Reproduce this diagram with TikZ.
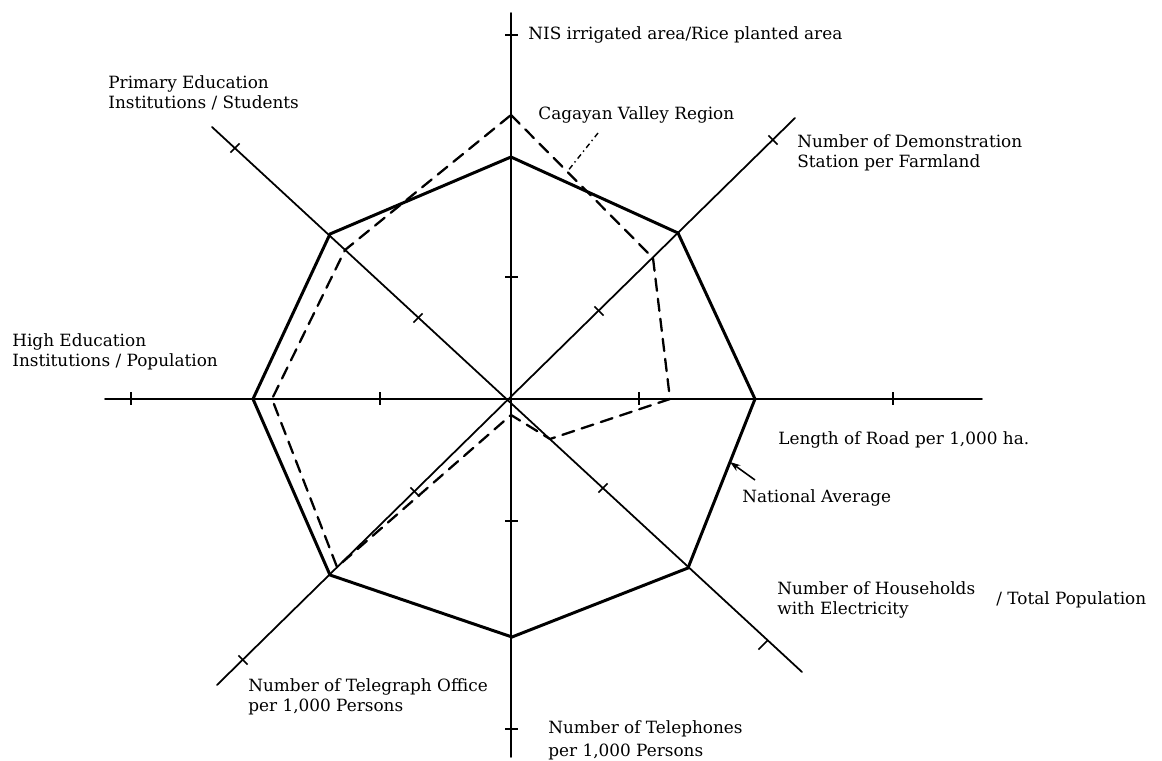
\documentclass[tikz,border=0pt]{standalone}
\usepackage{fontspec}
\setmainfont{DejaVu Serif}
\usepackage{tkz-euclide}
\usetikzlibrary{arrows.meta}
\definecolor{AxisClr}{gray}{0}
\definecolor{AvgClr}{gray}{0}
\definecolor{RegClr}{gray}{0}

\tikzset{
  lbl/.style={inner sep=0pt,anchor=west,align=left,
    font=\fontsize{9.6}{11.5}\selectfont},
  tick/.style={line width=0.9pt,color=AxisClr}
}

\begin{document}
\begin{tikzpicture}
\useasboundingbox (-10.22,-7.24) rectangle (13.02,7.98);
\tkzSetUpLine[line width=1pt,color=AxisClr]

% axes
\tkzDefPoints{0/0/O,0/7.72/N,0/-7.16/S,-8.12/0/W,9.42/0/E,
  5.68/5.62/NE,-5.88/-5.72/SW,-5.98/5.44/NW,5.82/-5.46/SE}
\tkzDrawSegments[line width=1pt,color=AxisClr](N,S W,E NE,SW NW,SE)

% tick marks
\tkzDefPoints{0/7.28/tN,0/2.44/tNi,0/-2.44/tSi,0/-6.6/tS,
  -7.6/0/tW,-2.62/0/tWi,2.56/0/tEi,7.64/0/tE,
  5.24/5.18/tNE,1.76/1.76/tNEi,-5.36/-5.22/tSW,-1.92/-1.86/tSWi,
  -5.52/5.02/tNW,-1.86/1.62/tNWi,5.04/-4.92/tSE,1.84/-1.78/tSEi}
\foreach \p/\a in {tN/0,tNi/0,tSi/0,tS/0,tW/90,tWi/90,tEi/90,tE/90,
  tNE/135,tNEi/135,tSW/135,tSWi/135,tNW/45,tNWi/45,tSE/45,tSEi/45}
  \draw[tick] (\p) ++(\a:0.13) -- ++(\a+180:0.26);

% national average
\tkzDefPoints{0/4.84/aT,3.34/3.32/aNE,4.88/0/aR,3.54/-3.38/aSE,
  0.02/-4.76/aB,-3.62/-3.52/aSW,-5.16/0/aL,-3.62/3.30/aNW}
\tkzDrawPolygon[line width=1.7pt,color=AvgClr,line join=miter](aT,aNE,aR,aSE,aB,aSW,aL,aNW)

% cagayan valley region
\tkzDefPoints{0/5.68/cT,2.84/2.82/cNE,3.18/0/cR,0.78/-0.80/cSE,
  0/-0.32/cB,-3.48/-3.36/cSW,-4.78/0/cL,-3.32/2.98/cNW}
\tkzDrawPolygon[line width=1.3pt,color=RegClr,dash pattern=on 7pt off 4.5pt](cT,cNE,cR,cSE,cB,cSW,cL,cNW)

% labels
\node[lbl] (nis) at (0.34,7.28) {NIS irrigated area/Rice planted area};
\node[lbl] (cagayan) at (0.54,5.68) {Cagayan Valley Region};
\node[lbl] (demo) at (5.72,4.92) {Number of Demonstration\\Station per Farmland};
\node[lbl] (primary) at (-8.06,6.13) {Primary Education\\Institutions / Students};
\node[lbl] (high) at (-9.98,0.94) {High Education\\Institutions / Population};
\node[lbl] (road) at (5.34,-0.82) {Length of Road per 1,000 ha.};
\node[lbl] (natavg) at (4.62,-1.98) {National Average};
\node[lbl] (house) at (5.32,-4.02) {Number of Households\\with Electricity};
\node[lbl] (totpop) at (9.7,-4.02) {/ Total Population};
\node[lbl] (telegraph) at (-5.26,-5.96) {Number of Telegraph Office\\per 1,000 Persons};
\node[lbl,font=\fontsize{9.6}{13}\selectfont] (phone) at (0.74,-6.82) {Number of Telephones\\per 1,000 Persons};

% leaders
\coordinate (cgTail) at (1.74,5.32);
\coordinate (cgTip) at (1.12,4.54);
\draw[line width=0.8pt,dash dot] (cgTail) -- (cgTip);
\coordinate (avTail) at (4.88,-1.62);
\coordinate (avTip) at (4.38,-1.26);
\draw[line width=0.9pt,-{Stealth[length=6pt,width=4pt]}] (avTail) -- (avTip);

\end{tikzpicture}
\end{document}
